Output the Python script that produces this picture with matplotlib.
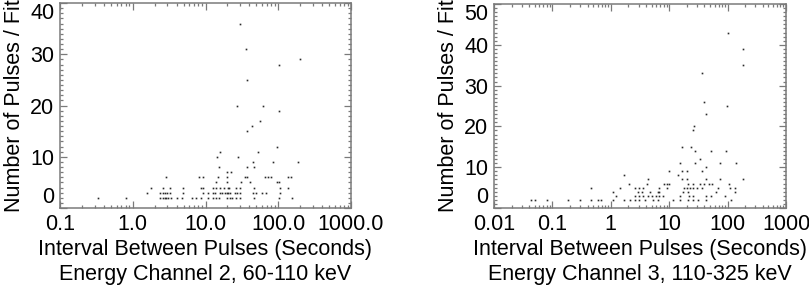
import matplotlib
matplotlib.use("Agg")
import matplotlib.pyplot as plt

plt.rcParams['font.family'] = ['Liberation Sans', 'DejaVu Sans']

# Energy channel 2 (60-110 keV): interval between pulses (s) and pulses per fit
ch2_interval = [
    29.8, 35.6, 197, 104, 36.8, 26.8, 61, 101, 57, 43, 37, 96,
    52, 15.7, 14.3, 28.3, 45, 85.6, 189, 15.5, 36.8, 46.4, 19.6, 22.4,
    2.84, 8.2, 9.3, 14.7, 19.6, 34.9, 36.8, 66, 72, 80, 137, 151,
    14.0, 19.6, 30.4, 40.6, 95, 101,
    1.78, 2.63, 3.25, 4.85, 8.8, 9.3, 12.6, 14, 15.8, 17.7, 20.6, 21.2, 26.6, 29.8, 46.8, 105, 137,
    1.55, 2.4, 2.6, 2.8, 3.0, 3.3, 4.85, 9.3, 10.9, 12.5, 13.6, 15.8, 17.0, 18.5, 19.6, 20.6, 21.6,
    25.4, 27.3, 29.8, 45, 48.8, 60, 68.7, 105,
    0.33, 0.81, 2.4, 2.6, 2.75, 2.9, 3.1, 3.4, 4.0, 4.7, 6.6, 7.4, 8.8, 10.9, 12.6, 14.0, 15.2,
    19.6, 21.6, 23.5, 26.6, 29.8, 46.8, 103, 153,
]
ch2_npulses = [
    36, 31, 29, 28, 25, 20, 20, 19, 17, 16, 15, 12,
    11, 11, 10, 10, 9, 9, 9, 8, 8, 8, 7, 7,
    6, 6, 6, 6, 6, 6, 6, 6, 6, 6, 6, 6,
    5, 5, 5, 5, 5, 5,
    4, 4, 4, 4, 4, 4, 4, 4, 4, 4, 4, 4, 4, 4, 4, 4, 4,
    3, 3, 3, 3, 3, 3, 3, 3, 3, 3, 3, 3, 3, 3, 3, 3, 3,
    3, 3, 3, 3, 3, 3, 3, 3,
    2, 2, 2, 2, 2, 2, 2, 2, 2, 2, 2, 2, 2, 2, 2, 2, 2,
    2, 2, 2, 2, 2, 2, 2, 2,
]

# Energy channel 3 (110-325 keV)
ch3_interval = [
    100, 181, 185, 36.7, 39.8, 97, 42, 26.5, 25.1, 16.3, 23.2,
    28.2, 51.8, 93.5, 33.5, 15.1, 27.5, 73.8, 139, 42.5,
    10.0, 16.7, 19.8, 37, 1.67, 14.2,
    4.35, 16.3, 20.3, 42.5, 73.8, 185,
    2.05, 4.1, 8.0, 9.3, 9.8, 21, 25.5, 33.5, 40, 48, 55, 104,
    0.45, 1.43, 2.6, 3.1, 3.6, 6.6, 9.2, 17.8, 20, 23, 26, 30, 36, 69, 110, 134,
    1.07, 2.95, 3.4, 4.7, 6.4, 6.8, 17.3, 21, 63.4, 134,
    1.24, 2.6, 3.1, 3.6, 4.4, 5.0, 6.0, 6.8, 7.8, 15.1, 21.9, 25.5, 43.5, 52.7, 89,
    0.043, 0.051, 0.082, 0.186, 0.294, 0.45, 0.61, 0.67, 1.09, 1.67, 2.1, 2.6, 3.0,
    3.8, 5.3, 6.4, 11.7, 15.1, 21, 25.5, 31, 43.5, 116,
]
ch3_npulses = [
    43, 39, 35, 33, 26, 25, 23, 20, 19, 15, 15,
    14, 14, 14, 12, 11, 11, 11, 11, 10,
    9, 9, 9, 9, 8, 8,
    7, 7, 7, 7, 7, 7,
    6, 6, 6, 6, 6, 6, 6, 6, 6, 6, 6, 6,
    5, 5, 5, 5, 5, 5, 5, 5, 5, 5, 5, 5, 5, 5, 5, 5,
    4, 4, 4, 4, 4, 4, 4, 4, 4, 4,
    3, 3, 3, 3, 3, 3, 3, 3, 3, 3, 3, 3, 3, 3, 3,
    2, 2, 2, 2, 2, 2, 2, 2, 2, 2, 2, 2, 2,
    2, 2, 2, 2, 2, 2, 2, 2, 2, 2,
]

ch2_xticks = [0.1, 1, 10, 100, 1000]
ch2_xlabels = ['0.1', '1.0', '10.0', '100.0', '1000.0']
ch3_xticks = [0.01, 0.1, 1, 10, 100, 1000]
ch3_xlabels = ['0.01', '0.1', '1', '10', '100', '1000']

W, H = 809, 286
fig = plt.figure(figsize=(W / 100, H / 100), dpi=100)

AXIS_COLOR = '#7a7a7a'
FS = 15.5


def draw_panel(rect, xs, ys, xlim, ylim, xticks, xlabels, yticks, title):
    ax = fig.add_axes(rect)
    ax.plot(xs, ys, linestyle='none', marker='s', markersize=1.2,
            markeredgewidth=0, color='#2a2a2a')
    ax.set_xscale('log')
    ax.set_xlim(*xlim)
    ax.set_ylim(*ylim)
    ax.set_xticks(xticks, xlabels)
    ax.set_yticks(yticks, [str(t) for t in yticks])
    ax.yaxis.set_minor_locator(matplotlib.ticker.MultipleLocator(1))
    ax.xaxis.set_minor_locator(matplotlib.ticker.LogLocator(base=10, subs=range(2, 10), numticks=20))
    ax.xaxis.set_minor_formatter(matplotlib.ticker.NullFormatter())

    for s in ax.spines.values():
        s.set_color(AXIS_COLOR)
        s.set_linewidth(1.1)
    ax.tick_params(which='both', direction='in', top=True, right=True,
                   color=AXIS_COLOR, width=0.9, labelsize=FS, pad=4)
    ax.tick_params(which='major', length=5)
    ax.tick_params(which='minor', length=2.4)

    # IDL keeps the end labels inside the axis range
    yt = ax.yaxis.get_major_ticks()
    yt[0].label1.set_va('bottom')
    yt[-1].label1.set_va('top')

    ax.set_ylabel('Number of Pulses / Fit', fontsize=FS, labelpad=4)
    ax.set_xlabel('Interval Between Pulses (Seconds)\n' + title,
                  fontsize=FS, labelpad=3, linespacing=1.25)
    return ax


draw_panel([60 / W, 78 / H, 291 / W, 205 / H], ch2_interval, ch2_npulses,
           (0.1, 1000), (0, 40), ch2_xticks, ch2_xlabels, [0, 10, 20, 30, 40],
           'Energy Channel 2, 60-110 keV')
draw_panel([494 / W, 78 / H, 292 / W, 204 / H], ch3_interval, ch3_npulses,
           (0.01, 1000), (0, 50), ch3_xticks, ch3_xlabels, [0, 10, 20, 30, 40, 50],
           'Energy Channel 3, 110-325 keV')

fig.savefig('out.png', dpi=100)
